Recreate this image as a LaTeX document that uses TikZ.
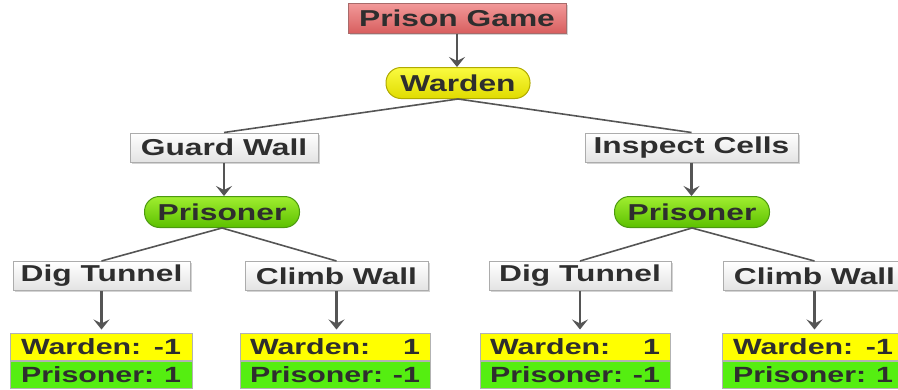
\documentclass[tikz,border=0pt]{standalone}
\usepackage{fontspec}
\setmainfont{Liberation Sans}[FakeStretch=1.38]
\usetikzlibrary{arrows.meta,shadows}
\definecolor{txt}{HTML}{2E2E2E}
\definecolor{edge}{HTML}{555555}
\definecolor{redtop}{HTML}{F29A9A}
\definecolor{redbot}{HTML}{D85F5F}
\definecolor{redline}{HTML}{A86A6A}
\definecolor{yeltop}{HTML}{FAFA40}
\definecolor{yelbot}{HTML}{E0DC00}
\definecolor{yelline}{HTML}{B0AA00}
\definecolor{grntop}{HTML}{A0EE30}
\definecolor{grnbot}{HTML}{5CC000}
\definecolor{grnline}{HTML}{4C9A10}
\definecolor{payy}{HTML}{FFFF00}
\definecolor{payg}{HTML}{55EE11}
\newcommand\prow[3]{\makebox[#1]{#2\hfill#3}}
\begin{document}
\begin{tikzpicture}[x=1pt,y=-1pt,
  font=\fontsize{23}{25}\selectfont\bfseries, text=txt,
  shade/.style={drop shadow={shadow xshift=1.5pt,shadow yshift=-1.5pt,opacity=0.35,fill=gray}},
  actbox/.style={rectangle, draw=gray!65, line width=1pt, top color=white, bottom color=gray!22,
    inner sep=0pt, minimum height=29pt, shade},
  rootbox/.style={rectangle, draw=redline, line width=1pt, top color=redtop, bottom color=redbot,
    inner sep=0pt, minimum height=30pt, minimum width=218pt, shade},
  wpill/.style={rectangle, rounded corners=15pt, draw=yelline, line width=1pt, top color=yeltop,
    bottom color=yelbot, inner sep=0pt, minimum height=31pt, minimum width=144pt},
  ppill/.style={rectangle, rounded corners=15pt, draw=grnline, line width=1pt, top color=grntop,
    bottom color=grnbot, inner sep=0pt, minimum height=31pt, minimum width=155pt},
  payrow/.style={rectangle, draw=gray!60, line width=1pt, inner sep=0pt, minimum height=27pt,
    font=\fontsize{22}{24}\selectfont\bfseries},
  link/.style={draw=edge, line width=1.6pt},
  arr/.style={draw=edge, line width=2.2pt, -{Stealth[length=10pt,width=16pt,inset=4pt]}}
]
\useasboundingbox (0,0) rectangle (898,389);
\clip (0,0) rectangle (898,389);

% nodes
\node[rootbox] (root) at (457,18) {Prison Game};
\node[wpill] (warden) at (458,83) {Warden};
\node[actbox, minimum width=188pt] (gw) at (224,147.5) {Guard Wall};
\node[actbox, minimum width=213pt] (ic) at (691.5,147.5) {Inspect Cells};
\node[ppill] (pl) at (222,212) {Prisoner};
\node[ppill] (pr) at (692,212) {Prisoner};
\node[actbox, minimum width=177pt] (dt1) at (101.5,276) {Dig Tunnel};
\node[actbox, minimum width=183pt] (cw1) at (336.5,276) {Climb Wall};
\node[actbox, minimum width=182pt] (dt2) at (580,276) {Dig Tunnel};
\node[actbox, minimum width=183pt] (cw2) at (814.5,276) {Climb Wall};

% payoffs
\node[payrow, fill=payy, minimum width=182pt] (w1) at (101,346.5) {\prow{160pt}{Warden:}{-1}};
\node[payrow, fill=payg, minimum width=182pt, anchor=north] (p1) at (w1.south) {\prow{160pt}{Prisoner:}{1}};
\node[payrow, fill=payy, minimum width=190pt] (w2) at (335,346.5) {\prow{170pt}{Warden:}{1}};
\node[payrow, fill=payg, minimum width=190pt, anchor=north] (p2) at (w2.south) {\prow{170pt}{Prisoner:}{-1}};
\node[payrow, fill=payy, minimum width=190pt] (w3) at (575,346.5) {\prow{170pt}{Warden:}{1}};
\node[payrow, fill=payg, minimum width=190pt, anchor=north] (p3) at (w3.south) {\prow{170pt}{Prisoner:}{-1}};
\node[payrow, fill=payy, minimum width=182pt] (w4) at (813,346.5) {\prow{160pt}{Warden:}{-1}};
\node[payrow, fill=payg, minimum width=182pt, anchor=north] (p4) at (w4.south) {\prow{160pt}{Prisoner:}{1}};

% connectors
\draw[arr] (root.south) -- (root.south |- warden.north);
\draw[link] (warden.south) -- (gw.north);
\draw[link] (warden.south) -- (ic.north);
\draw[arr] (gw.south) -- (gw.south |- pl.north);
\draw[arr] (ic.south) -- (ic.south |- pr.north);
\draw[link] (pl.south) -- (dt1.north);
\draw[link] (pl.south) -- (cw1.north);
\draw[link] (pr.south) -- (dt2.north);
\draw[link] (pr.south) -- (cw2.north);
\draw[arr] (dt1.south) -- ([yshift=3pt]dt1.south |- w1.north);
\draw[arr] (cw1.south) -- ([yshift=3pt]cw1.south |- w2.north);
\draw[arr] (dt2.south) -- ([yshift=3pt]dt2.south |- w3.north);
\draw[arr] (cw2.south) -- ([yshift=3pt]cw2.south |- w4.north);
\end{tikzpicture}
\end{document}
